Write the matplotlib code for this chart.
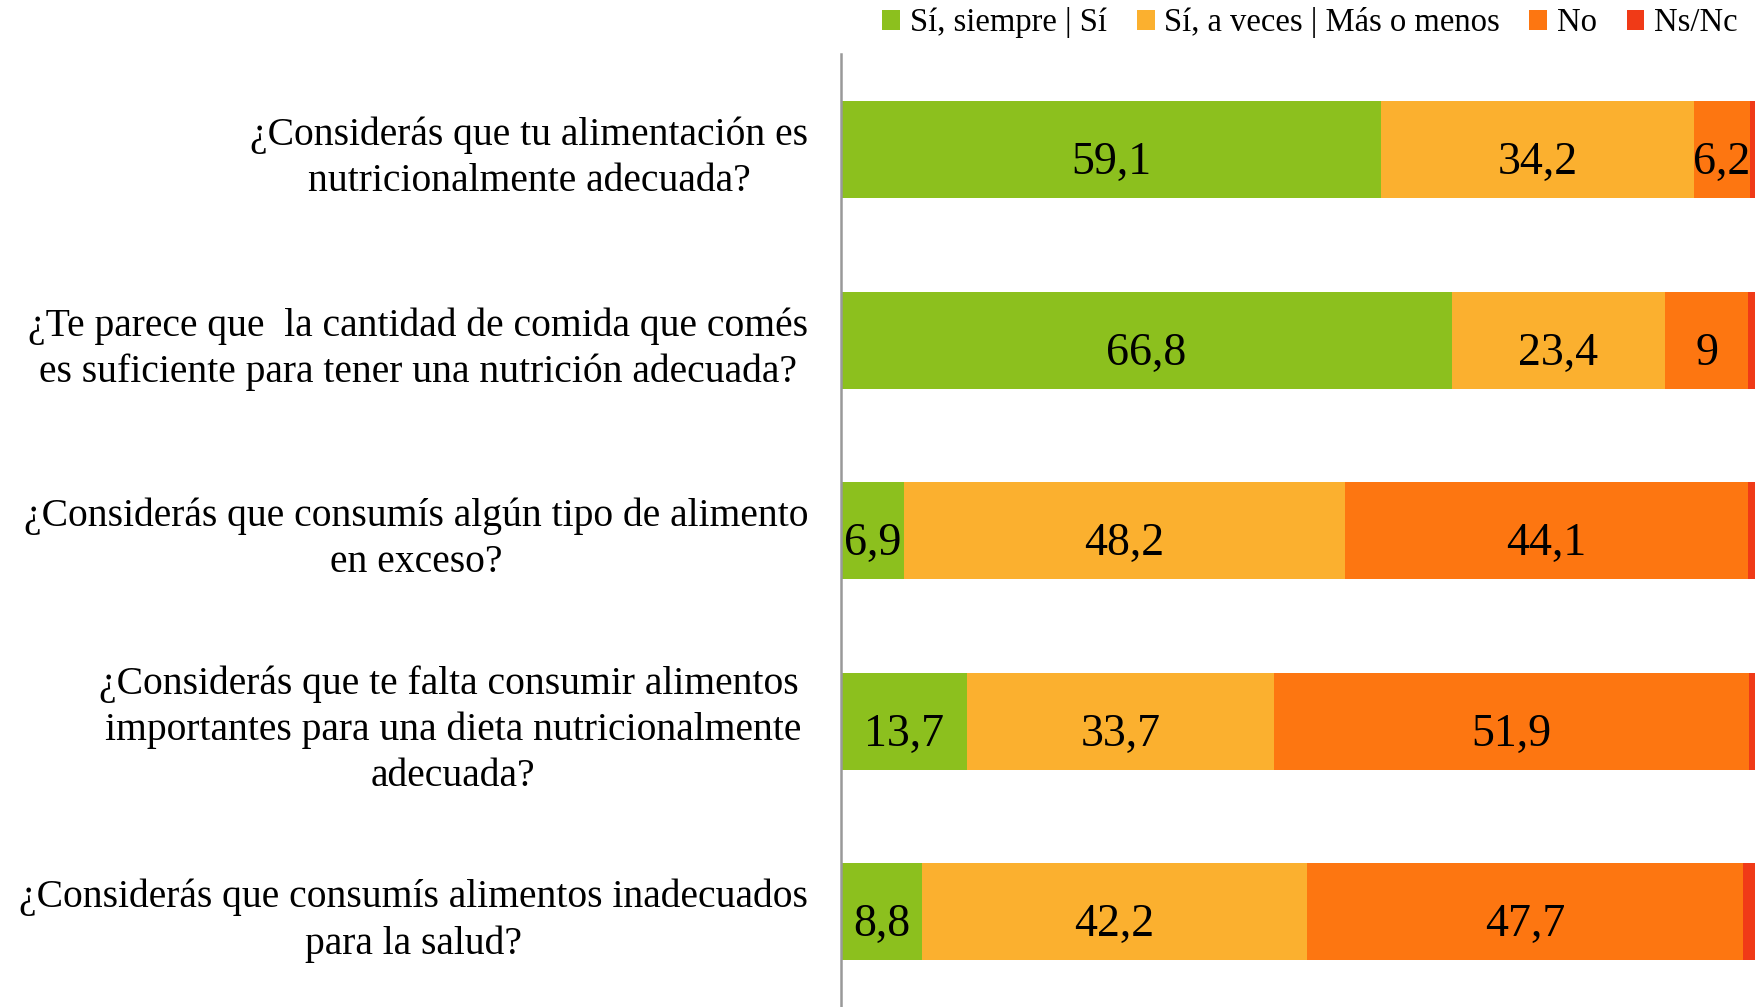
import numpy as np
from matplotlib import pyplot as plt

plt.rcParams['font.family'] = ['Liberation Serif', 'DejaVu Serif']

preguntas = [
    '¿Considerás que tu alimentación es\nnutricionalmente adecuada?',
    '¿Te parece que  la cantidad de comida que comés\nes suficiente para tener una nutrición adecuada?',
    '¿Considerás que consumís algún tipo de alimento\nen exceso?',
    '¿Considerás que te falta consumir alimentos \nimportantes para una dieta nutricionalmente\nadecuada?',
    '¿Considerás que consumís alimentos inadecuados\npara la salud?',
]

series = ['Sí, siempre | Sí', 'Sí, a veces | Más o menos', 'No', 'Ns/Nc']
si = [59.1, 66.8, 6.9, 13.7, 8.8]
a_veces = [34.2, 23.4, 48.2, 33.7, 42.2]
no = [6.2, 9, 44.1, 51.9, 47.7]
nsnc = [0.5, 0.8, 0.8, 0.7, 1.3]

colores = ['#8cc01e', '#fbb02f', '#fd7611', '#f03a17']

fig = plt.figure(figsize=(17.62, 10.07), dpi=100)
ax = fig.add_axes([0.4775, 0.0, 0.5185, 0.946])

y = np.arange(len(preguntas))
left = np.zeros(len(preguntas))
for nombre, vals, col, etiq in zip(series, [si, a_veces, no, nsnc], colores,
                                   [True, True, True, False]):
    vals = np.array(vals)
    ax.barh(y, vals, left=left, height=0.51, color=col, label=nombre)
    if etiq:
        for i, v in enumerate(vals):
            txt = ('%g' % v).replace('.', ',')
            ax.text(left[i] + v / 2, y[i] + 0.07, txt, ha='center', va='center',
                    fontsize=33, color='black')
    left += vals

ax.set_xlim(0, 100)
ax.set_ylim(4.5, -0.5)
ax.set_yticks(y)
ax.set_yticklabels(preguntas, fontsize=28.5, multialignment='center',
                   linespacing=1.32)
ax.tick_params(axis='y', length=0, pad=24)
ax.set_xticks([])
for s in ['top', 'right', 'bottom']:
    ax.spines[s].set_visible(False)
ax.spines['left'].set_color('#999999')
ax.spines['left'].set_linewidth(1.8)

fig.legend(loc='upper right', bbox_to_anchor=(1.003, 1.022), ncol=4, frameon=False,
           fontsize=23.5, handlelength=0.55, handleheight=0.55, handletextpad=0.3,
           columnspacing=0.9)

fig.savefig('out.png', dpi=100)
